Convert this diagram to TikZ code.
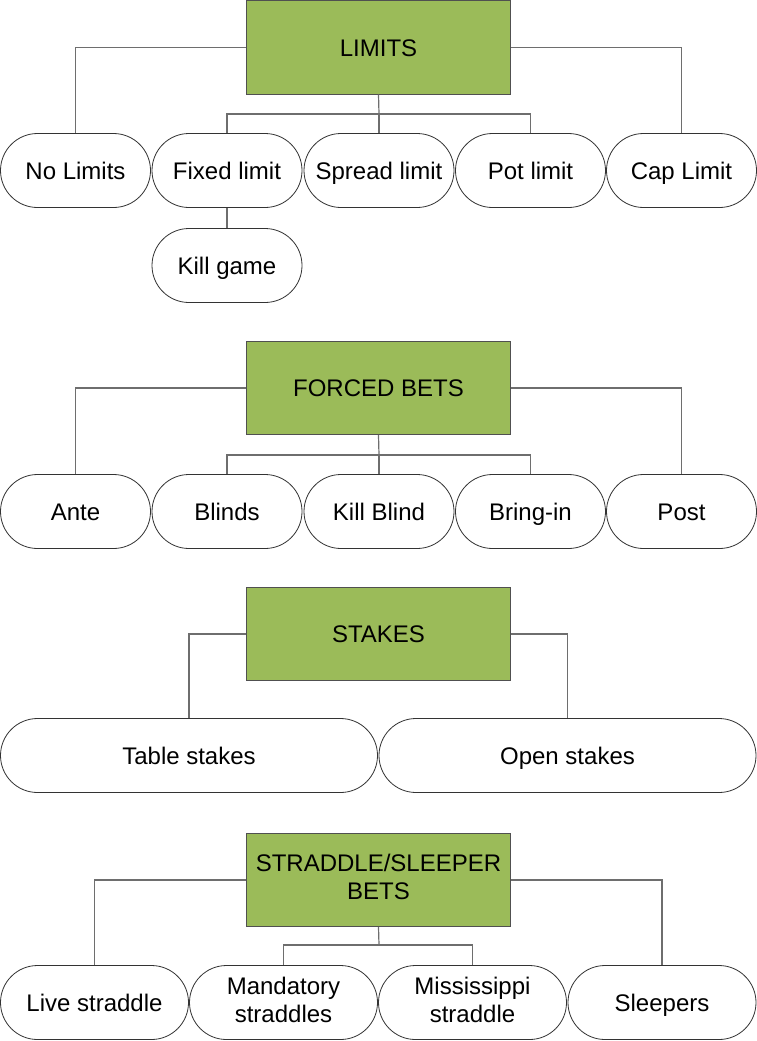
\documentclass[tikz,border=0pt]{standalone}
\usepackage{fontspec}
\setmainfont{Liberation Sans}
\definecolor{boxgreen}{HTML}{9BBB59}
\definecolor{edgegray}{HTML}{505050}
\definecolor{linkgray}{HTML}{6E6E6E}
\newcommand{\capstrut}{\rule[-6pt]{0pt}{29.2pt}}
\begin{document}
\begin{tikzpicture}[x=1pt,y=-1pt,
  headbox/.style={draw=edgegray,line width=1pt,fill=boxgreen,minimum width=264pt,minimum height=93pt,inner sep=0pt,align=center,font=\fontsize{24}{28}\selectfont,execute at begin node=\capstrut,execute at end node=\capstrut},
  pill/.style={draw=black!80,line width=0.8pt,fill=white,rounded corners=37pt,minimum height=74pt,inner sep=0pt,align=center,font=\fontsize{24}{28}\selectfont,execute at begin node=\capstrut,execute at end node=\capstrut},
  link/.style={draw=linkgray,line width=1.2pt}]
\useasboundingbox (0,0) rectangle (757,1041);
% ---------- LIMITS ----------
\node[headbox] (lim) at (378.5,47.5) {LIMITS};
\node[pill,minimum width=150pt] (nolim) at (75.5,170.5) {No Limits};
\node[pill,minimum width=150pt] (fixed) at (227,170.5) {Fixed limit};
\node[pill,minimum width=150pt] (spread) at (379,170.5) {Spread limit};
\node[pill,minimum width=150pt] (pot) at (530.5,170.5) {Pot limit};
\node[pill,minimum width=150pt] (cap) at (681.5,170.5) {Cap Limit};
\node[pill,minimum width=150pt] (kill) at (227,265.5) {Kill game};
\coordinate (j1) at (379,114);
\draw[link] (lim.west) -| (nolim.north);
\draw[link] (lim.east) -| (cap.north);
\draw[link] (lim.south) -- (j1);
\draw[link] (fixed.north) |- (j1) -| (pot.north);
\draw[link] (j1) -- (spread.north);
\draw[link] (fixed.south) -- (kill.north);
% ---------- FORCED BETS ----------
\node[headbox] (forced) at (378.5,388) {FORCED BETS};
\node[pill,minimum width=150pt] (ante) at (75.5,511.5) {Ante};
\node[pill,minimum width=150pt] (blinds) at (227,511.5) {Blinds};
\node[pill,minimum width=150pt] (killb) at (379,511.5) {Kill Blind};
\node[pill,minimum width=150pt] (bring) at (530.5,511.5) {Bring-in};
\node[pill,minimum width=150pt] (post) at (681.5,511.5) {Post};
\coordinate (j2) at (379,455);
\draw[link] (forced.west) -| (ante.north);
\draw[link] (forced.east) -| (post.north);
\draw[link] (forced.south) -- (j2);
\draw[link] (blinds.north) |- (j2) -| (bring.north);
\draw[link] (j2) -- (killb.north);
% ---------- STAKES ----------
\node[headbox] (stakes) at (378.5,634) {STAKES};
\node[pill,minimum width=377pt] (table) at (189,755.5) {Table stakes};
\node[pill,minimum width=377pt] (open) at (567.5,755.5) {Open stakes};
\draw[link] (stakes.west) -| (table.north);
\draw[link] (stakes.east) -| (open.north);
% ---------- STRADDLE ----------
\node[headbox] (strad) at (378.5,880) {STRADDLE/SLEEPER\\BETS};
\node[pill,minimum width=188pt] (live) at (94.5,1002.5) {Live straddle};
\node[pill,minimum width=188pt] (mand) at (283.5,1002.5) {Mandatory\\straddles};
\node[pill,minimum width=188pt] (miss) at (472.5,1002.5) {Mississippi\\straddle};
\node[pill,minimum width=188pt] (sleep) at (662,1002.5) {Sleepers};
\coordinate (j4) at (379,945);
\draw[link] (strad.west) -| (live.north);
\draw[link] (strad.east) -| (sleep.north);
\draw[link] (strad.south) -- (j4);
\draw[link] (mand.north) |- (j4) -| (miss.north);
\end{tikzpicture}
\end{document}
